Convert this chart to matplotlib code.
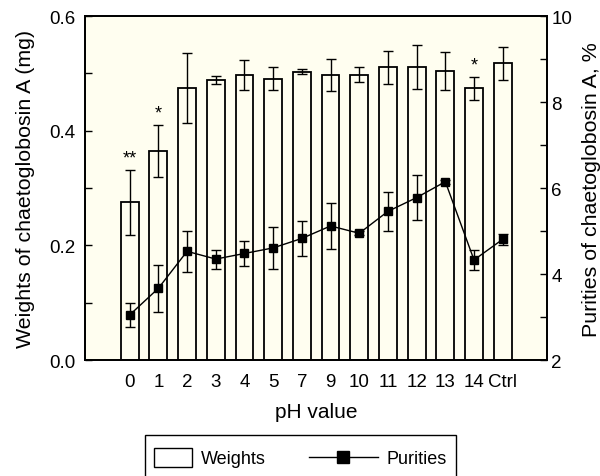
import numpy as np
import matplotlib.pyplot as plt
from matplotlib.patches import Rectangle
from matplotlib.lines import Line2D
from matplotlib.legend_handler import HandlerBase

plt.rcParams['font.family'] = ['Liberation Sans', 'DejaVu Sans']

# dados
ph_labels = ['0', '1', '2', '3', '4', '5', '7', '9', '10', '11', '12', '13', '14', 'Ctrl']
weights = [0.275, 0.365, 0.474, 0.488, 0.497, 0.491, 0.503, 0.497, 0.498, 0.511, 0.511, 0.505, 0.474, 0.518]
weights_err = [0.056, 0.046, 0.061, 0.007, 0.026, 0.020, 0.004, 0.028, 0.013, 0.029, 0.038, 0.033, 0.020, 0.029]
purities = [3.05, 3.67, 4.53, 4.35, 4.48, 4.61, 4.83, 5.12, 4.95, 5.46, 5.78, 6.15, 4.33, 4.81]
purities_err = [0.28, 0.55, 0.47, 0.22, 0.29, 0.49, 0.41, 0.54, 0.05, 0.45, 0.53, 0.05, 0.24, 0.13]
stars = {0: '**', 1: '*', 12: '*'}

x = np.arange(len(ph_labels))


# legenda: caixa curta para as barras, linha mais longa para as purezas
class BoxHandler(HandlerBase):
    def create_artists(self, legend, orig_handle, xdescent, ydescent, width, height, fontsize, trans):
        h = 13.7
        r = Rectangle((-xdescent, -ydescent + (height - h) / 2), width, h,
                      facecolor='white', edgecolor='black', linewidth=1)
        r.set_transform(trans)
        return [r]


class LongLineHandler(HandlerBase):
    def create_artists(self, legend, orig_handle, xdescent, ydescent, width, height, fontsize, trans):
        ext = 22.3
        y = -ydescent + height / 2
        ln = Line2D([-xdescent - ext, -xdescent + width], [y, y], color='black', linewidth=1)
        mk = Line2D([-xdescent + (width - ext) / 2], [y], marker='s', markersize=9,
                    color='black', linestyle='')
        ln.set_transform(trans)
        mk.set_transform(trans)
        return [ln, mk]


fig = plt.figure(figsize=(6, 4.77), dpi=100)
ax = fig.add_axes([0.142, 0.243, 0.770, 0.721])
ax.set_facecolor('#fffef0')

bars = ax.bar(x, weights, width=0.62, facecolor='none', edgecolor='black', linewidth=1.3,
              yerr=weights_err, capsize=3.5, error_kw=dict(elinewidth=1, capthick=1, ecolor='black'))
for i, s in stars.items():
    ax.text(x[i], weights[i] + weights_err[i] + 0.006, s, ha='center', va='bottom', fontsize=13)

ax.set_xlim(-1.55, 14.55)
ax.set_ylim(0, 0.6)
ax.set_yticks([0.0, 0.2, 0.4, 0.6])
ax.set_yticks([0.1, 0.3, 0.5], minor=True)
ax.set_xticks(x)
ax.set_xticklabels(ph_labels)
ax.tick_params(axis='x', length=0, pad=9, labelsize=13.5)
ax.tick_params(axis='y', which='both', direction='in', labelsize=13.5, width=1, length=5, pad=7)
ax.set_ylabel('Weights of chaetoglobosin A (mg)', fontsize=15.4, labelpad=10)
ax.set_xlabel('pH value', fontsize=15, labelpad=9)
for sp in ax.spines.values():
    sp.set_linewidth(1.3)

ax2 = ax.twinx()
ax2.errorbar(x, purities, yerr=purities_err, color='black', marker='s', markersize=5.5,
             linewidth=1, capsize=3.5, elinewidth=1, capthick=1)
ax2.set_ylim(2, 10)
ax2.set_yticks([2, 4, 6, 8, 10])
ax2.set_yticks([3, 5, 7, 9], minor=True)
ax2.tick_params(axis='y', which='both', direction='in', labelsize=13.5, length=5, width=1, pad=3)
ax2.set_ylabel('Purities of chaetoglobosin A, %', fontsize=15.4, labelpad=7)
for sp in ax2.spines.values():
    sp.set_linewidth(1.3)

h_box = Rectangle((0, 0), 1, 1)
h_line = Line2D([], [])
leg = fig.legend([h_box, h_line], ['Weights', 'Purities'], loc='upper left', ncol=2,
                 bbox_to_anchor=(145 / 600, 1 - 436 / 477), borderaxespad=0,
                 handler_map={h_box: BoxHandler(), h_line: LongLineHandler()},
                 fancybox=False, edgecolor='black', fontsize=13, borderpad=0.5,
                 columnspacing=4.1, handlelength=2.1, handleheight=1.9,
                 handletextpad=0.5, framealpha=1)
leg.get_frame().set_linewidth(1)

fig.savefig('out.png', dpi=100)
